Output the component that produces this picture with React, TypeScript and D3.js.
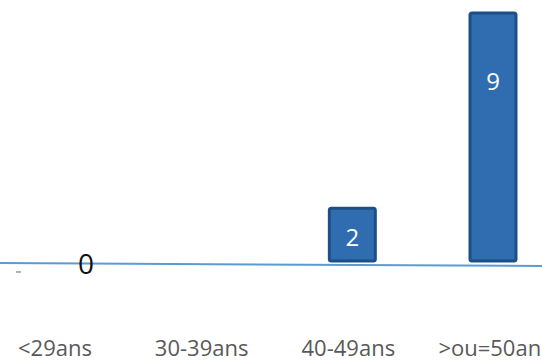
import * as d3 from 'd3'

const categories = ['<29ans', '30-39ans', '40-49ans', '>ou=50ans']
const values = [0, 0, 2, 9]

const W = 542
const H = 363
const BASE = 264
const FONT = "'Open Sans', Lato, sans-serif"

export default function App() {
  const x = d3.scalePoint<string>().domain(categories).range([55, 495])
  const y = d3.scaleLinear().domain([0, 9]).range([BASE, 13])
  const bw = 46

  return (
    <div style={{ position: 'fixed', left: 0, top: 0 }}>
      <svg width={W} height={H} style={{ display: 'block', background: '#fff' }}>
        <line x1={0} x2={W} y1={y(0) - 1} y2={y(0) + 2} stroke="#5b9bd5" strokeWidth={2} />
        <line x1={16} x2={21} y1={272} y2={272} stroke="#666" strokeWidth={1} />
        {categories.map((c, i) => {
          const v = values[i]
          const cx = x(c) ?? 0
          if (v === 0) {
            return i === 0 ? (
              <text key={c} x={86} y={y(0) + 10} fontFamily={FONT} fontSize={28} textAnchor="middle" fill="#111">
                {v}
              </text>
            ) : null
          }
          return (
            <g key={c}>
              <rect x={cx - bw / 2 + (v > 5 ? -2 : 4)} y={y(v)} width={bw} height={y(0) - y(v) - 3} rx={2} fill="#2f6db0" stroke="#1d4f86" strokeWidth={3} />
              <text x={cx + (v > 5 ? -2 : 4)} y={y(v) + (v > 5 ? 77 : 38)} fontFamily={FONT} fontSize={24} textAnchor="middle" fill="#fff">
                {v}
              </text>
            </g>
          )
        })}
        {categories.map((c) => (
          <text key={c} x={x(c) ?? 0} y={356} fontFamily={FONT} fontSize={22} textAnchor="middle" fill="#595959">
            {c}
          </text>
        ))}
      </svg>
    </div>
  )
}
